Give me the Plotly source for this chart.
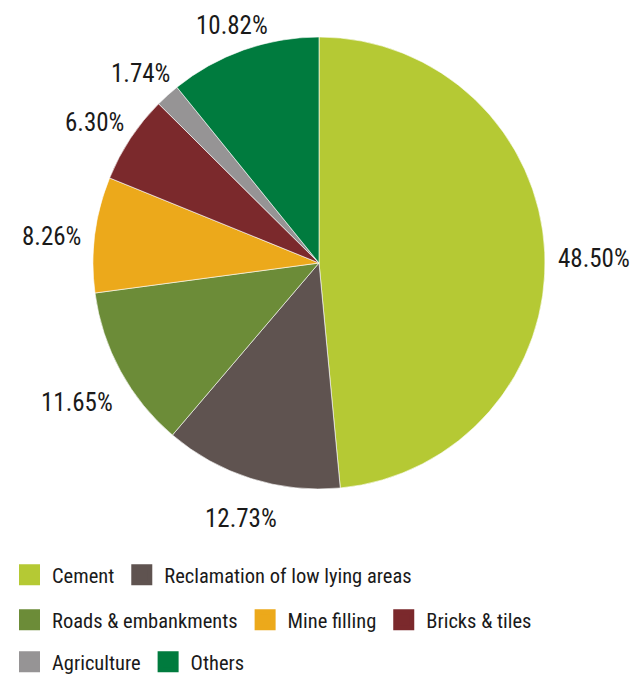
import math
import plotly.graph_objects as go

# Fly ash utilisation by mode (%)
categories = [
    "Cement",
    "Reclamation of low lying areas",
    "Roads & embankments",
    "Mine filling",
    "Bricks & tiles",
    "Agriculture",
    "Others",
]
shares = [48.50, 12.73, 11.65, 8.26, 6.30, 1.74, 10.82]
colors = ["#b5c934", "#5f5350", "#6c8c38", "#eca91b", "#7b292c", "#969495", "#007b3e"]

FONT = "Roboto Condensed, DejaVu Sans Condensed, sans-serif"
LABEL_SIZE = 25

# pie centre and radius in pixels
W, H = 630, 676
cx, cy, R = 319, 263, 226

fig = go.Figure()

fig.add_trace(go.Pie(
    labels=categories,
    values=shares,
    sort=False,
    direction="clockwise",
    rotation=0,
    marker=dict(colors=colors, line=dict(color="white", width=0.6)),
    textinfo="none",
    hovertemplate="%{label}: %{value:.2f}%<extra></extra>",
    showlegend=False,
    domain=dict(x=[(cx - R) / W, (cx + R) / W],
                y=[1 - (cy + R) / H, 1 - (cy - R) / H]),
))

# Percentage labels just outside each slice, at the slice's mid angle
total = sum(shares)
start = 0.0
gap = 14      # space between rim and label box
drop = 8      # labels sit slightly below their anchor point
for v in shares:
    mid = math.radians((start + v / 2) / total * 360)
    start += v
    text = f"{v:.2f}%"
    tw, th = 11.7 * len(text), 18
    s, c = math.sin(mid), math.cos(mid)
    d = R + gap + abs(s) * tw / 2 + abs(c) * th / 2
    px, py = cx + d * s, cy - d * c + drop
    fig.add_annotation(
        x=px / W, y=1 - py / H, xref="paper", yref="paper",
        xanchor="center", yanchor="middle", showarrow=False,
        text=text, font=dict(family=FONT, size=LABEL_SIZE, color="#1a1a1a"),
    )

# Legend entries, split over three rows
legend_rows = [[0, 1], [2, 3, 4], [5, 6]]
row_tops = [555, 600, 642]
legend_names = ["legend", "legend2", "legend3"]

for r, idxs in enumerate(legend_rows):
    for i in idxs:
        fig.add_trace(go.Scatter(
            x=[None], y=[None], mode="markers", name=categories[i],
            marker=dict(symbol="square", size=16, color=colors[i],
                        line=dict(color=colors[i], width=5)),
            legend=legend_names[r], showlegend=True, hoverinfo="skip",
        ))

legend_style = dict(
    orientation="h", x=7 / W, xanchor="left", yanchor="top",
    font=dict(family=FONT, size=20.5, color="#1a1a1a"),
    itemsizing="trace", itemwidth=35, bgcolor="rgba(0,0,0,0)",
    itemclick=False, itemdoubleclick=False,
)

fig.update_layout(
    width=W, height=H,
    margin=dict(l=0, r=0, t=0, b=0, autoexpand=False),
    paper_bgcolor="white", plot_bgcolor="white",
    xaxis=dict(visible=False), yaxis=dict(visible=False),
    legend=dict(**legend_style, y=1 - row_tops[0] / H),
    legend2=dict(**legend_style, y=1 - row_tops[1] / H),
    legend3=dict(**legend_style, y=1 - row_tops[2] / H),
)

fig.write_html("out.html")
